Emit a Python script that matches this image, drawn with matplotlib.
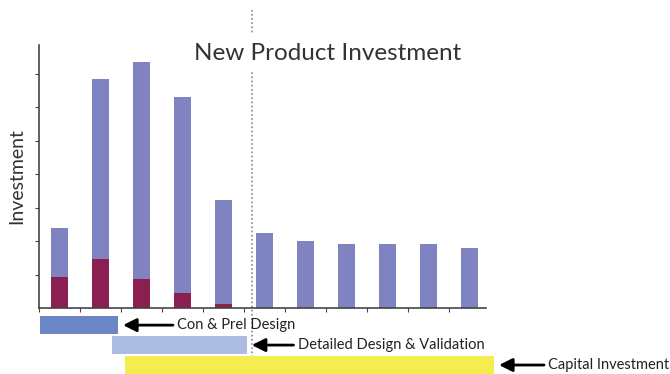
import matplotlib.pyplot as plt
import numpy as np

plt.rcParams['font.family'] = ['Lato', 'DejaVu Sans']

# investment per period: early (dark) share and total height
periods = np.arange(11)
early_spend = [0.93, 1.47, 0.87, 0.45, 0.12, 0, 0, 0, 0, 0, 0]
total_spend = [2.40, 6.86, 7.37, 6.32, 3.23, 2.25, 2.00, 1.92, 1.92, 1.92, 1.80]
later_spend = [t - e for t, e in zip(total_spend, early_spend)]

# project phases (start, end in periods)
phase_names = ['Con & Prel Design', 'Detailed Design & Validation', 'Capital Investment']
phase_start = [-0.48, 1.28, 1.60]
phase_end = [1.43, 4.57, 10.60]
phase_colors = ['#6a86c6', '#adbde2', '#f5ed50']
label_gap = [1.44, 1.24, 1.32]
milestone = 4.70

fig = plt.figure(figsize=(6.7, 3.74), dpi=100)
ax = fig.add_axes([0.0582, 0.1765, 0.667, 0.7032])

ax.bar(periods, early_spend, width=0.42, color='#8b1f52')
ax.bar(periods, later_spend, width=0.42, bottom=early_spend, color='#7f83c0')

ax.set_xlim(-0.5, 10.4)
ax.set_ylim(0, 7.87)
ax.set_xticks(np.arange(-0.5, 10.5, 1.0))
ax.set_yticks(np.arange(1, 8))
ax.tick_params(axis='both', direction='out', length=3, width=0.8,
               labelbottom=False, labelleft=False, color='#444444')
for side in ['top', 'right']:
    ax.spines[side].set_visible(False)
for side in ['left', 'bottom']:
    ax.spines[side].set_color('#444444')
    ax.spines[side].set_linewidth(1.2)

ax.set_ylabel('Investment', fontsize=14, color='#333333', labelpad=7)

ax.axvline(milestone, ymin=-0.251, ymax=1.133, clip_on=False,
           color='#888888', linestyle=(0, (1, 1.5)), linewidth=1.2, zorder=0)

fig.text(0.489, 0.858, 'New Product Investment', fontsize=17.5, color='#333333',
         ha='center', va='center',
         bbox=dict(facecolor='white', edgecolor='none', pad=6))

# phase bars below the chart, same x scale
gx = fig.add_axes([0.0582, 0.0, 0.667, 0.16])
gx.set_xlim(ax.get_xlim())
gx.set_ylim(3, 0)
gx.axis('off')
for i, name in enumerate(phase_names):
    row = [0.1, 1.1, 2.1][i]
    gx.barh(row, phase_end[i] - phase_start[i], left=phase_start[i], height=0.9,
            align='edge', color=phase_colors[i], clip_on=False)
    gx.annotate(name, xy=(phase_end[i] + 0.12, row + 0.45),
                xytext=(phase_end[i] + label_gap[i], row + 0.45),
                fontsize=10.5, color='#222222', va='center', ha='left',
                annotation_clip=False,
                arrowprops=dict(arrowstyle='-|>', color='black', lw=2,
                                mutation_scale=20, shrinkA=1, shrinkB=0))

fig.savefig('out.png', dpi=100)
